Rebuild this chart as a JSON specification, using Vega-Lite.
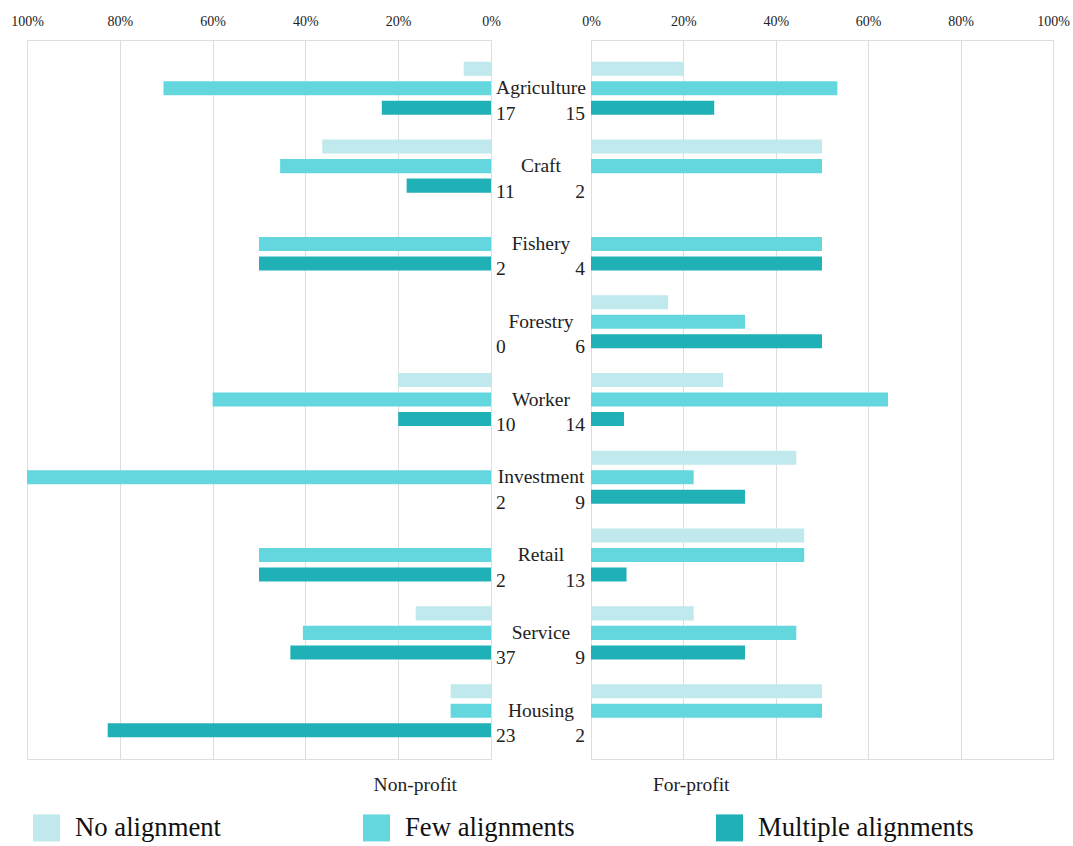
{
  "$schema": "https://vega.github.io/schema/vega-lite/v6.json",
  "padding": {"left": 10, "top": 13, "right": 3, "bottom": 2},
  "background": "white",
  "config": {
    "font": "'Liberation Serif', 'Times New Roman', serif",
    "view": {"stroke": "#dddddd"},
    "text": {"font": "'Liberation Serif', 'Times New Roman', serif"},
    "axis": {"domain": false, "ticks": false, "grid": true, "gridColor": "#dddddd", "labelFontSize": 14, "labelColor": "#222222", "labelPadding": 12, "labelFlush": false, "labelFont": "'Liberation Serif', 'Times New Roman', serif"},
    "title": {"font": "'Liberation Serif', 'Times New Roman', serif", "fontSize": 19.5, "fontWeight": "normal", "color": "#222222"},
    "legend": {"labelFont": "'Liberation Serif', 'Times New Roman', serif"}
  },
  "datasets": {
    "bars": [
      {"category": "Agriculture", "sector": "Non-profit", "type": "No alignment", "pct": 0.0588},
      {"category": "Agriculture", "sector": "Non-profit", "type": "Few alignments", "pct": 0.7059},
      {"category": "Agriculture", "sector": "Non-profit", "type": "Multiple alignments", "pct": 0.2353},
      {"category": "Agriculture", "sector": "For-profit", "type": "No alignment", "pct": 0.2},
      {"category": "Agriculture", "sector": "For-profit", "type": "Few alignments", "pct": 0.5333},
      {"category": "Agriculture", "sector": "For-profit", "type": "Multiple alignments", "pct": 0.2667},
      {"category": "Craft", "sector": "Non-profit", "type": "No alignment", "pct": 0.3636},
      {"category": "Craft", "sector": "Non-profit", "type": "Few alignments", "pct": 0.4545},
      {"category": "Craft", "sector": "Non-profit", "type": "Multiple alignments", "pct": 0.1818},
      {"category": "Craft", "sector": "For-profit", "type": "No alignment", "pct": 0.5},
      {"category": "Craft", "sector": "For-profit", "type": "Few alignments", "pct": 0.5},
      {"category": "Fishery", "sector": "Non-profit", "type": "Few alignments", "pct": 0.5},
      {"category": "Fishery", "sector": "Non-profit", "type": "Multiple alignments", "pct": 0.5},
      {"category": "Fishery", "sector": "For-profit", "type": "Few alignments", "pct": 0.5},
      {"category": "Fishery", "sector": "For-profit", "type": "Multiple alignments", "pct": 0.5},
      {"category": "Forestry", "sector": "For-profit", "type": "No alignment", "pct": 0.1667},
      {"category": "Forestry", "sector": "For-profit", "type": "Few alignments", "pct": 0.3333},
      {"category": "Forestry", "sector": "For-profit", "type": "Multiple alignments", "pct": 0.5},
      {"category": "Worker", "sector": "Non-profit", "type": "No alignment", "pct": 0.2},
      {"category": "Worker", "sector": "Non-profit", "type": "Few alignments", "pct": 0.6},
      {"category": "Worker", "sector": "Non-profit", "type": "Multiple alignments", "pct": 0.2},
      {"category": "Worker", "sector": "For-profit", "type": "No alignment", "pct": 0.2857},
      {"category": "Worker", "sector": "For-profit", "type": "Few alignments", "pct": 0.6429},
      {"category": "Worker", "sector": "For-profit", "type": "Multiple alignments", "pct": 0.0714},
      {"category": "Investment", "sector": "Non-profit", "type": "Few alignments", "pct": 1.0},
      {"category": "Investment", "sector": "For-profit", "type": "No alignment", "pct": 0.4444},
      {"category": "Investment", "sector": "For-profit", "type": "Few alignments", "pct": 0.2222},
      {"category": "Investment", "sector": "For-profit", "type": "Multiple alignments", "pct": 0.3333},
      {"category": "Retail", "sector": "Non-profit", "type": "Few alignments", "pct": 0.5},
      {"category": "Retail", "sector": "Non-profit", "type": "Multiple alignments", "pct": 0.5},
      {"category": "Retail", "sector": "For-profit", "type": "No alignment", "pct": 0.4615},
      {"category": "Retail", "sector": "For-profit", "type": "Few alignments", "pct": 0.4615},
      {"category": "Retail", "sector": "For-profit", "type": "Multiple alignments", "pct": 0.0769},
      {"category": "Service", "sector": "Non-profit", "type": "No alignment", "pct": 0.1622},
      {"category": "Service", "sector": "Non-profit", "type": "Few alignments", "pct": 0.4054},
      {"category": "Service", "sector": "Non-profit", "type": "Multiple alignments", "pct": 0.4324},
      {"category": "Service", "sector": "For-profit", "type": "No alignment", "pct": 0.2222},
      {"category": "Service", "sector": "For-profit", "type": "Few alignments", "pct": 0.4444},
      {"category": "Service", "sector": "For-profit", "type": "Multiple alignments", "pct": 0.3333},
      {"category": "Housing", "sector": "Non-profit", "type": "No alignment", "pct": 0.087},
      {"category": "Housing", "sector": "Non-profit", "type": "Few alignments", "pct": 0.087},
      {"category": "Housing", "sector": "Non-profit", "type": "Multiple alignments", "pct": 0.8261},
      {"category": "Housing", "sector": "For-profit", "type": "No alignment", "pct": 0.5},
      {"category": "Housing", "sector": "For-profit", "type": "Few alignments", "pct": 0.5}
    ],
    "counts": [
      {"category": "Agriculture", "np": 17, "fp": 15},
      {"category": "Craft", "np": 11, "fp": 2},
      {"category": "Fishery", "np": 2, "fp": 4},
      {"category": "Forestry", "np": 0, "fp": 6},
      {"category": "Worker", "np": 10, "fp": 14},
      {"category": "Investment", "np": 2, "fp": 9},
      {"category": "Retail", "np": 2, "fp": 13},
      {"category": "Service", "np": 37, "fp": 9},
      {"category": "Housing", "np": 23, "fp": 2}
    ]
  },
  "spacing": 100,
  "bounds": "flush",
  "hconcat": [
    {
      "width": 464,
      "height": 719,
      "title": {"text": "Non-profit", "orient": "bottom", "anchor": "end", "frame": "group", "dx": -34, "offset": 17, "font": "'Liberation Serif', 'Times New Roman', serif", "fontSize": 19.5, "fontWeight": "normal", "color": "#222222"},
      "layer": [
        {
          "data": {"name": "bars"},
          "transform": [{"filter": "datum.sector === 'Non-profit'"}],
          "mark": {"type": "bar"},
          "encoding": {
            "y": {"field": "category", "type": "nominal", "scale": {"domain": ["Agriculture", "Craft", "Fishery", "Forestry", "Worker", "Investment", "Retail", "Service", "Housing"], "paddingInner": 0.318, "paddingOuter": 0.28}, "axis": null},
            "yOffset": {"field": "type", "type": "nominal", "scale": {"domain": ["No alignment", "Few alignments", "Multiple alignments"], "paddingInner": 0.28, "paddingOuter": 0}},
            "x": {"field": "pct", "type": "quantitative", "scale": {"domain": [0, 1], "reverse": true}, "axis": {"orient": "top", "format": ".0%", "values": [0, 0.2, 0.4, 0.6, 0.8, 1], "title": null, "labelFont": "'Liberation Serif', 'Times New Roman', serif", "labelFontSize": 14, "labelFlush": false}},
            "color": {"field": "type", "type": "nominal", "scale": {"domain": ["No alignment", "Few alignments", "Multiple alignments"], "range": ["#bfe9ec", "#63d7dd", "#20b1b7"]},
              "legend": {"title": null, "orient": "bottom", "direction": "horizontal", "columnPadding": 141, "padding": 6, "symbolType": "square", "symbolSize": 729, "symbolStrokeWidth": 0, "symbolOpacity": 1, "labelFont": "'Liberation Serif', 'Times New Roman', serif", "labelFontSize": 26.7, "labelColor": "#111111", "labelOffset": 15, "offset": 13, "labelLimit": 400}}
          }
        },
        {
          "data": {"name": "counts"},
          "mark": {"type": "text", "align": "center", "baseline": "middle", "fontSize": 19.5, "dx": 50, "color": "#222222", "font": "'Liberation Serif', 'Times New Roman', serif"},
          "encoding": {
            "y": {"field": "category", "type": "nominal"},
            "yOffset": {"datum": "Few alignments"},
            "x": {"datum": 0},
            "text": {"field": "category"}
          }
        },
        {
          "data": {"name": "counts"},
          "mark": {"type": "text", "align": "left", "baseline": "middle", "fontSize": 19.5, "dx": 5, "dy": 6, "color": "#222222", "font": "'Liberation Serif', 'Times New Roman', serif"},
          "encoding": {
            "y": {"field": "category", "type": "nominal"},
            "yOffset": {"datum": "Multiple alignments"},
            "x": {"datum": 0},
            "text": {"field": "np"}
          }
        }
      ]
    },
    {
      "width": 462,
      "height": 719,
      "title": {"text": "For-profit", "orient": "bottom", "anchor": "start", "frame": "group", "dx": 62, "offset": 17, "font": "'Liberation Serif', 'Times New Roman', serif", "fontSize": 19.5, "fontWeight": "normal", "color": "#222222"},
      "layer": [
        {
          "data": {"name": "bars"},
          "transform": [{"filter": "datum.sector === 'For-profit'"}],
          "mark": {"type": "bar"},
          "encoding": {
            "y": {"field": "category", "type": "nominal", "scale": {"domain": ["Agriculture", "Craft", "Fishery", "Forestry", "Worker", "Investment", "Retail", "Service", "Housing"], "paddingInner": 0.318, "paddingOuter": 0.28}, "axis": null},
            "yOffset": {"field": "type", "type": "nominal", "scale": {"domain": ["No alignment", "Few alignments", "Multiple alignments"], "paddingInner": 0.28, "paddingOuter": 0}},
            "x": {"field": "pct", "type": "quantitative", "scale": {"domain": [0, 1]}, "axis": {"orient": "top", "format": ".0%", "values": [0, 0.2, 0.4, 0.6, 0.8, 1], "title": null, "labelFont": "'Liberation Serif', 'Times New Roman', serif", "labelFontSize": 14, "labelFlush": false}},
            "color": {"field": "type", "type": "nominal", "scale": {"domain": ["No alignment", "Few alignments", "Multiple alignments"], "range": ["#bfe9ec", "#63d7dd", "#20b1b7"]}}
          }
        },
        {
          "data": {"name": "counts"},
          "mark": {"type": "text", "align": "right", "baseline": "middle", "fontSize": 19.5, "dx": -6, "dy": 6, "color": "#222222", "font": "'Liberation Serif', 'Times New Roman', serif"},
          "encoding": {
            "y": {"field": "category", "type": "nominal"},
            "yOffset": {"datum": "Multiple alignments"},
            "x": {"datum": 0},
            "text": {"field": "fp"}
          }
        }
      ]
    }
  ]
}
